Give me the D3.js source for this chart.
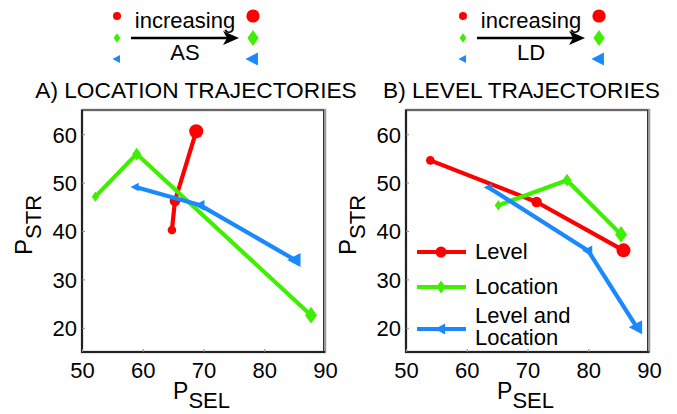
<!DOCTYPE html>
<html><head><meta charset="utf-8">
<script src="https://cdn.jsdelivr.net/npm/d3@7"></script>
<style>body{margin:0;background:#fff}svg{display:block;font-family:"Liberation Sans",Arial,sans-serif}</style>
</head><body><svg id="c" width="677" height="414"></svg>
<script>
// ---- data ----
const xTicks = [50, 60, 70, 80, 90];
const yTicks = [20, 30, 40, 50, 60];
const seriesNames = ["Level", "Location", "Level and Location"];
const seriesColors = ["#ff0000", "#3ef000", "#1a88ff"];
const seriesShapes = ["circle", "diamond", "triangle"];
// Panel A: location trajectories (P_SEL, P_STR)
const aLevelX = [64.8, 65.3, 68.8];
const aLevelY = [40.2, 46.2, 60.6];
const aLocationX = [52.2, 59.0, 87.7];
const aLocationY = [47.1, 55.9, 22.6];
const aBothX = [58.8, 69.5, 85.1];
const aBothY = [49.1, 45.3, 34.0];
// Panel B: level trajectories
const bLevelX = [54.0, 71.5, 85.8];
const bLevelY = [54.6, 46.0, 36.0];
const bLocationX = [65.2, 76.5, 85.4];
const bLocationY = [45.3, 50.5, 39.3];
const bBothX = [63.6, 80.0, 88.0];
const bBothY = [49.0, 35.9, 20.1];
const titles = ["A) LOCATION TRAJECTORIES", "B) LEVEL TRAJECTORIES"];
const arrowLabels = ["AS", "LD"];

const svg = d3.select("#c");
const FS = 22;

function markerPath(shape, s) {
  if (shape === "circle") return d3.symbol(d3.symbolCircle, Math.PI * s * s)();
  if (shape === "diamond") {
    const w = s * 0.85, h = s * 1.2;
    return `M0,${-h}L${w},0L0,${h}L${-w},0Z`;
  }
  const a = s * 1.15, b = s * 0.75;
  return `M${-a},0L${b},${-s}L${b},${s}Z`;
}
const markerSizes = [4.3, 5.3, 7];

function panel(ox, data, title, arrowLabel, legendX, showLegend, titleShift) {
  const x0 = ox, x1 = ox + 243, y0 = 110, y1 = 352;
  const x = d3.scaleLinear().domain([50, 90]).range([x0, x1]);
  const y = d3.scaleLinear().domain([15, 65]).range([y1, y0]);
  const g = svg.append("g");

  // frame
  g.append("rect").attr("x", x0).attr("y", y0).attr("width", x1 - x0).attr("height", y1 - y0)
    .attr("fill", "none").attr("stroke", "#9a9a9a").attr("stroke-width", 2.5);
  g.append("rect").attr("x", x0).attr("y", y0).attr("width", x1 - x0 - 1.5).attr("height", y1 - y0)
    .attr("fill", "none").attr("stroke", "#333").attr("stroke-width", 1);
  g.append("path").attr("d", `M${x0},${y0}V${y1}H${x1}`).attr("fill", "none").attr("stroke", "#222").attr("stroke-width", 2);

  // axes
  const xa = g.append("g").attr("transform", `translate(0,${y1})`)
    .call(d3.axisBottom(x).tickValues(xTicks).tickSizeInner(-3).tickSizeOuter(0).tickPadding(10));
  const ya = g.append("g").attr("transform", `translate(${x0},0)`)
    .call(d3.axisLeft(y).tickValues(yTicks).tickSizeInner(-3).tickSizeOuter(0).tickPadding(5));
  [xa, ya].forEach(a => {
    a.select(".domain").remove();
    a.selectAll("line").attr("stroke", "#888");
    a.selectAll("text").attr("font-size", FS).attr("font-family", "Liberation Sans, Arial, sans-serif").attr("fill", "#000");
  });
  ya.selectAll("text").attr("dy", "0.36em");
  xa.selectAll("text").attr("dy", "0.71em");

  // axis labels
  const xl = g.append("text").attr("x", (x0 + x1) / 2 - 2).attr("y", 399).attr("text-anchor", "middle").attr("font-size", 23);
  xl.append("tspan").text("P");
  xl.append("tspan").attr("dy", 9).attr("font-size", 22).text("SEL");
  const yl = g.append("text").attr("transform", `translate(${ox - 50},${(y0 + y1) / 2 - 6}) rotate(-90)`)
    .attr("text-anchor", "middle").attr("font-size", 24);
  yl.append("tspan").text("P");
  yl.append("tspan").attr("dy", 9).attr("font-size", 22).text("STR");

  // title
  g.append("text").attr("x", (x0 + x1) / 2 + titleShift).attr("y", 98).attr("text-anchor", "middle")
    .attr("font-size", 22.7).text(title);

  // series
  data.forEach((s, i) => {
    const pts = s.xs.map((v, k) => [x(v), y(s.ys[k])]);
    g.append("path").attr("d", d3.line()(pts)).attr("fill", "none")
      .attr("stroke", seriesColors[i]).attr("stroke-width", 4.2).attr("stroke-linejoin", "round");
    g.selectAll(null).data(pts).join("path")
      .attr("transform", d => `translate(${d[0]},${d[1]})`)
      .attr("d", (d, k) => markerPath(seriesShapes[i], markerSizes[k]))
      .attr("fill", seriesColors[i]);
  });

  // legend inside panel B
  if (showLegend) {
    const ly = [252, 287, 329];
    seriesNames.forEach((n, i) => {
      g.append("line").attr("x1", x0 + 11).attr("x2", x0 + 60).attr("y1", ly[i]).attr("y2", ly[i])
        .attr("stroke", seriesColors[i]).attr("stroke-width", 4.2);
      g.append("path").attr("transform", `translate(${x0 + 35},${ly[i]})`)
        .attr("d", markerPath(seriesShapes[i], 5.5)).attr("fill", seriesColors[i]);
      const t = g.append("text").attr("x", x0 + 69).attr("font-size", FS);
      if (i < 2) { t.attr("y", ly[i] + 7).text(n); }
      else {
        t.attr("y", 323); t.append("tspan").text("Level and");
        t.append("tspan").attr("x", x0 + 69).attr("y", 345).text("Location");
      }
    });
  }

  // top "increasing" key
  const kx0 = legendX, kx1 = legendX + 136;
  const ky = [16, 38, 59];
  seriesShapes.forEach((sh, i) => {
    g.append("path").attr("transform", `translate(${kx0},${ky[i]})`).attr("d", markerPath(sh, 4)).attr("fill", seriesColors[i]);
    g.append("path").attr("transform", `translate(${kx1},${ky[i]})`).attr("d", markerPath(sh, 6.6)).attr("fill", seriesColors[i]);
  });
  g.append("line").attr("x1", kx0 + 14).attr("x2", kx1 - 26).attr("y1", 38).attr("y2", 38)
    .attr("stroke", "#000").attr("stroke-width", 2.5);
  g.append("path").attr("d", `M${kx1 - 14},38L${kx1 - 30},31L${kx1 - 26},38L${kx1 - 30},45Z`).attr("fill", "#000");
  g.append("text").attr("x", (kx0 + kx1) / 2).attr("y", 28).attr("text-anchor", "middle").attr("font-size", FS).text("increasing");
  g.append("text").attr("x", (kx0 + kx1) / 2).attr("y", 60).attr("text-anchor", "middle").attr("font-size", FS).text(arrowLabel);
}

panel(82, [
  {xs: aLevelX, ys: aLevelY},
  {xs: aLocationX, ys: aLocationY},
  {xs: aBothX, ys: aBothY}
], titles[0], arrowLabels[0], 117, false, -7.5);
panel(406, [
  {xs: bLevelX, ys: bLevelY},
  {xs: bLocationX, ys: bLocationY},
  {xs: bBothX, ys: bBothY}
], titles[1], arrowLabels[1], 463, true, -6);
</script>
</body></html>
